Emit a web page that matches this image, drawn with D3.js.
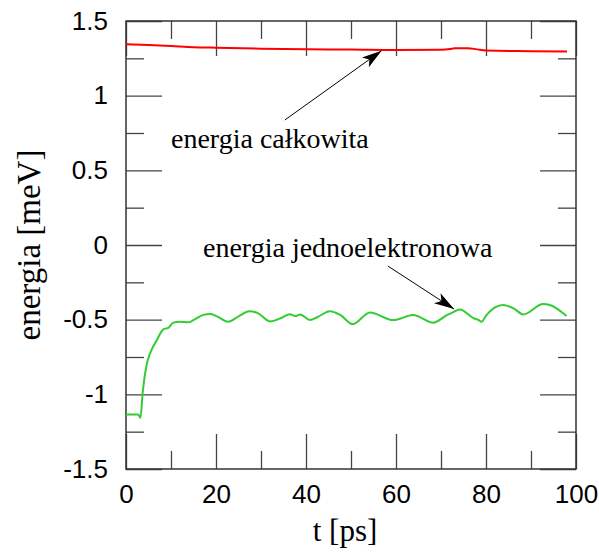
<!DOCTYPE html>
<html>
<head>
<meta charset="utf-8">
<script src="https://cdn.jsdelivr.net/npm/d3@7"></script>
<style>
  body { margin: 0; background: #fff; }
  .tick text { font-family: "Liberation Sans", Arial, sans-serif; font-size: 26px; fill: #000; }
  .serif { font-family: "Liberation Serif", "Times New Roman", serif; fill: #000; }
</style>
</head>
<body>
<div id="chart"></div>
<script>
// values
var tTotal = [0, 5, 10, 15, 20, 30, 40, 50, 60, 70, 72, 73, 76, 78, 80, 90, 98];
var eTotal = [1.345, 1.34, 1.333, 1.325, 1.321, 1.315, 1.311, 1.309, 1.306, 1.307, 1.312, 1.318, 1.318, 1.31, 1.302, 1.298, 1.295];

var tSingle = [0, 2.7, 3.2, 3.7, 4.6, 5.3, 6.8, 8.3, 9.4, 10.5, 12, 13.9, 15, 17.2, 18.7, 20.1, 22.7, 25, 27.4, 29.3,
  32, 34.6, 36.4, 37.6, 38.7, 40.9, 42.6, 45.3, 47.6, 50.4, 54.2, 59.4, 63.8, 68.3, 71.3, 72.4, 74.2, 77.2,
  78.3, 79, 80.1, 83.8, 86.1, 88.3, 92.7, 94.2, 97.9];
var eSingle = [-1.135, -1.135, -1.158, -0.99, -0.80, -0.73, -0.64, -0.565, -0.555, -0.52, -0.514, -0.518, -0.503, -0.468, -0.462, -0.476, -0.514, -0.478, -0.444, -0.456,
  -0.512, -0.487, -0.463, -0.476, -0.466, -0.503, -0.482, -0.443, -0.468, -0.53, -0.452, -0.503, -0.469, -0.52, -0.47, -0.454, -0.432, -0.49,
  -0.502, -0.514, -0.469, -0.402, -0.424, -0.465, -0.395, -0.402, -0.476];

var xTicks = [0, 20, 40, 60, 80, 100];
var xMinor = [10, 30, 50, 70, 90];
var yTicks = [-1.5, -1, -0.5, 0, 0.5, 1, 1.5];
var yMinor = [-1.25, -0.75, -0.25, 0.25, 0.75, 1.25];

var svgWidth = 599, svgHeight = 556;
var margin = { top: 21, right: 23, bottom: 87, left: 126 };
var width = svgWidth - margin.left - margin.right;
var height = svgHeight - margin.top - margin.bottom;

var svg = d3.select("#chart").append("svg")
  .attr("width", svgWidth)
  .attr("height", svgHeight);

var chartGroup = svg.append("g")
  .attr("transform", `translate(${margin.left}, ${margin.top})`);

var xScale = d3.scaleLinear().domain([0, 100]).range([0, width]);
var yScale = d3.scaleLinear().domain([-1.5, 1.5]).range([height, 0]);

// plain hyphen for negatives, like the original
var fmt = d => String(d);

// axes with inward ticks on all four sides
function styleAxis(g, labels) {
  g.select(".domain").remove();
  g.selectAll(".tick line").attr("stroke", "#444").attr("stroke-width", 1.3);
  if (!labels) g.selectAll(".tick text").remove();
}

chartGroup.append("g")
  .attr("transform", `translate(0, ${height})`)
  .call(d3.axisBottom(xScale).tickValues(xTicks).tickSize(-35).tickPadding(16).tickFormat(fmt))
  .call(g => styleAxis(g, true));
chartGroup.append("g")
  .attr("transform", `translate(0, ${height})`)
  .call(d3.axisBottom(xScale).tickValues(xMinor).tickSize(-18))
  .call(g => styleAxis(g, false));
chartGroup.append("g")
  .call(d3.axisTop(xScale).tickValues(xTicks).tickSize(-35))
  .call(g => styleAxis(g, false));
chartGroup.append("g")
  .call(d3.axisTop(xScale).tickValues(xMinor).tickSize(-18))
  .call(g => styleAxis(g, false));

chartGroup.append("g")
  .call(d3.axisLeft(yScale).tickValues(yTicks).tickSize(-36).tickPadding(18).tickFormat(fmt))
  .call(g => styleAxis(g, true));
chartGroup.append("g")
  .call(d3.axisLeft(yScale).tickValues(yMinor).tickSize(-18))
  .call(g => styleAxis(g, false));
chartGroup.append("g")
  .attr("transform", `translate(${width}, 0)`)
  .call(d3.axisRight(yScale).tickValues(yTicks).tickSize(-36))
  .call(g => styleAxis(g, false));
chartGroup.append("g")
  .attr("transform", `translate(${width}, 0)`)
  .call(d3.axisRight(yScale).tickValues(yMinor).tickSize(-18))
  .call(g => styleAxis(g, false));

chartGroup.selectAll(".tick text").attr("fill", "#000");

// frame
chartGroup.append("rect")
  .attr("width", width)
  .attr("height", height)
  .attr("fill", "none")
  .attr("stroke", "#333")
  .attr("stroke-width", 1.5);

// lines
var line = d3.line()
  .x(d => xScale(d[0]))
  .y(d => yScale(d[1]))
  .curve(d3.curveMonotoneX);

chartGroup.append("path")
  .datum(d3.zip(tTotal, eTotal))
  .attr("d", line)
  .attr("fill", "none")
  .attr("stroke", "#ff0000")
  .attr("stroke-width", 2);

chartGroup.append("path")
  .datum(d3.zip(tSingle, eSingle))
  .attr("d", line)
  .attr("fill", "none")
  .attr("stroke", "#33cc33")
  .attr("stroke-width", 2);

// arrows
svg.append("defs").append("marker")
  .attr("id", "head")
  .attr("viewBox", "0 0 20 12")
  .attr("refX", 20)
  .attr("refY", 6)
  .attr("markerWidth", 20)
  .attr("markerHeight", 12)
  .attr("markerUnits", "userSpaceOnUse")
  .attr("orient", "auto")
  .append("path")
  .attr("d", "M0,0 L20,6 L0,12 L5,6 Z")
  .attr("fill", "#000");

var arrows = [
  { from: [35.3, 0.837], to: [56.8, 1.301] },
  { from: [58.2, -0.141], to: [72.9, -0.429] }
];
chartGroup.selectAll(".arrow")
  .data(arrows)
  .enter()
  .append("line")
  .attr("class", "arrow")
  .attr("x1", d => xScale(d.from[0]))
  .attr("y1", d => yScale(d.from[1]))
  .attr("x2", d => xScale(d.to[0]))
  .attr("y2", d => yScale(d.to[1]))
  .attr("stroke", "#000")
  .attr("stroke-width", 1)
  .attr("marker-end", "url(#head)");

// annotations
svg.append("text").attr("class", "serif")
  .attr("x", 171).attr("y", 148)
  .style("font-size", "28px")
  .text("energia całkowita");
svg.append("text").attr("class", "serif")
  .attr("x", 203).attr("y", 257)
  .style("font-size", "28px")
  .text("energia jednoelektronowa");

// axis titles
svg.append("text").attr("class", "serif")
  .attr("x", margin.left + width / 2 - 6).attr("y", 541)
  .attr("text-anchor", "middle")
  .style("font-size", "31px")
  .text("t [ps]");
svg.append("text").attr("class", "serif")
  .attr("transform", "translate(40, 245) rotate(-90)")
  .attr("text-anchor", "middle")
  .style("font-size", "33px")
  .text("energia [meV]");
</script>
</body>
</html>
